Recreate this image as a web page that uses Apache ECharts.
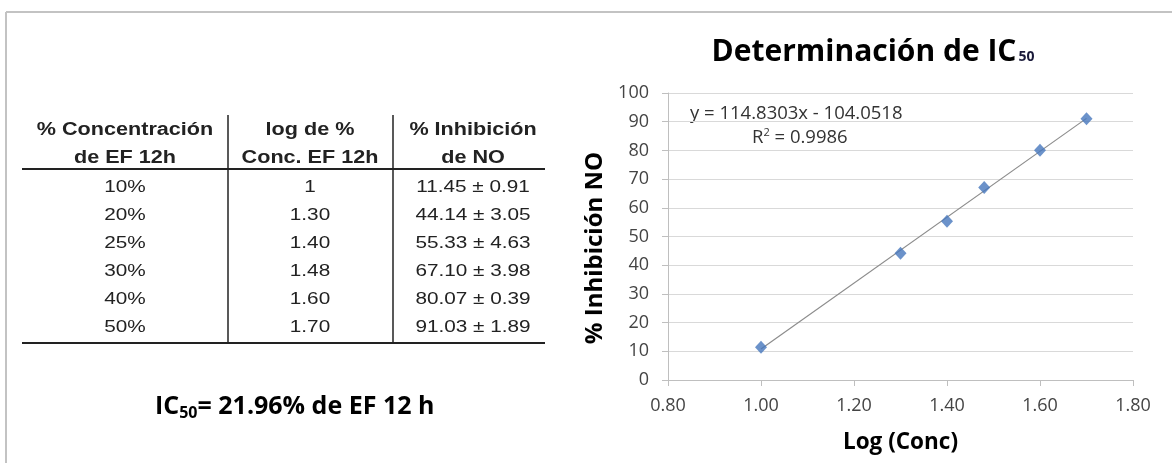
<!DOCTYPE html>
<html>
<head>
<meta charset="utf-8">
<script src="https://cdn.jsdelivr.net/npm/echarts@6/dist/echarts.min.js"></script>
<style>
html,body{margin:0;padding:0;background:#fff;}
#chart{width:1172px;height:463px;}
</style>
</head>
<body>
<div id="chart"></div>
<script>
// ---- data ----
var concLabels = ['10%', '20%', '25%', '30%', '40%', '50%'];
var logLabels = ['1', '1.30', '1.40', '1.48', '1.60', '1.70'];
var logConc = [1.00, 1.30, 1.40, 1.48, 1.60, 1.70];
var inhibition = [11.45, 44.14, 55.33, 67.10, 80.07, 91.03];
var inhibitionSD = [0.91, 3.05, 4.63, 3.98, 0.39, 1.89];
var slope = 114.8303;
var intercept = -104.0518;
var r2 = 0.9986;
var xTicks = [0.80, 1.00, 1.20, 1.40, 1.60, 1.80];
var yTicks = [0, 10, 20, 30, 40, 50, 60, 70, 80, 90, 100];
var headers = [['% Concentración', 'de EF 12h'], ['log de %', 'Conc. EF 12h'], ['% Inhibición', 'de NO']];

// ---- build ----
var chart = echarts.init(document.getElementById('chart'));
var points = logConc.map(function (x, i) { return [x, inhibition[i]]; });
var xFirst = logConc[0], xLast = logConc[logConc.length - 1];
var trend = [[xFirst, slope * xFirst + intercept], [xLast, slope * xLast + intercept]];

var FONT_T = '"Liberation Sans", Arial, sans-serif';
var FONT_C = '"Open Sans", sans-serif';
var colXc = [125, 310, 473];
var tblLeft = 22, tblRight = 545, vLines = [228, 393];
var g = [];
// border
g.push({type: 'line', shape: {x1: 6, y1: 12, x2: 1172, y2: 12}, style: {stroke: '#c3c3c3', lineWidth: 2}});
g.push({type: 'line', shape: {x1: 6, y1: 12, x2: 6, y2: 463}, style: {stroke: '#c3c3c3', lineWidth: 2}});
// table lines
g.push({type: 'line', shape: {x1: tblLeft, y1: 169, x2: tblRight, y2: 169}, style: {stroke: '#222', lineWidth: 2}});
g.push({type: 'line', shape: {x1: tblLeft, y1: 343, x2: tblRight, y2: 343}, style: {stroke: '#222', lineWidth: 2}});
vLines.forEach(function (x) {
  g.push({type: 'line', shape: {x1: x, y1: 115, x2: x, y2: 343}, style: {stroke: '#222', lineWidth: 1.5}});
});
// headers
headers.forEach(function (h, c) {
  h.forEach(function (line, k) {
    g.push({type: 'text', x: colXc[c], y: 130 + k * 28, scaleX: 1.2,
      style: {text: line, font: 'bold 18px ' + FONT_T, fill: '#222', align: 'center', verticalAlign: 'middle'}});
  });
});
// rows
concLabels.forEach(function (lab, i) {
  var y = 187 + i * 28;
  var cells = [lab, logLabels[i], inhibition[i].toFixed(2) + ' \u00b1 ' + inhibitionSD[i].toFixed(2)];
  cells.forEach(function (t, c) {
    g.push({type: 'text', x: colXc[c], y: y, scaleX: 1.22,
      style: {text: t, font: '17px ' + FONT_T, fill: '#222', align: 'center', verticalAlign: 'middle'}});
  });
});
// IC50 caption
g.push({type: 'text', x: 155, y: 407, style: {
  text: '{a|IC}{b|50}{a|= 21.96% de EF 12 h}', verticalAlign: 'middle',
  rich: {a: {font: 'bold 25px ' + FONT_C, fill: '#000'}, b: {font: 'bold 16px ' + FONT_C, fill: '#000', padding: [13, 0, 0, 0]}}
}});
// equation
g.push({type: 'text', x: 690, y: 114, style: {text: 'y = ' + slope.toFixed(4) + 'x - ' + Math.abs(intercept).toFixed(4), font: '18.5px ' + FONT_C, fill: '#333', verticalAlign: 'middle'}});
g.push({type: 'text', x: 752, y: 138, style: {text: '{a|R}{s|2}{a| = ' + r2.toFixed(4) + '}', verticalAlign: 'middle',
  rich: {a: {font: '18.5px ' + FONT_C, fill: '#333'}, s: {font: '11px ' + FONT_C, fill: '#333', padding: [0, 0, 10, 0]}}}});
// y axis title
g.push({type: 'text', x: 595, y: 248, rotation: Math.PI / 2, style: {text: '% Inhibición NO', font: 'bold 24px ' + FONT_C, fill: '#000', align: 'center', verticalAlign: 'middle'}});

var option = {
  backgroundColor: '#fff',
  animation: false,
  title: {
    text: '{a|Determinación de IC}{b|50}',
    left: 868, top: 32, textAlign: 'center',
    textStyle: {rich: {a: {fontFamily: FONT_C, fontWeight: 'bold', fontSize: 30, color: '#000'},
                       b: {fontFamily: FONT_C, fontWeight: 'bold', fontSize: 14, color: '#1a1a3a', padding: [11, 0, 0, 2]}}}
  },
  grid: {left: 668, right: 39, top: 93, bottom: 83},
  xAxis: {
    type: 'value', min: 0.8, max: 1.8, interval: 0.2,
    name: 'Log (Conc)', nameLocation: 'middle', nameGap: 51,
    nameTextStyle: {fontFamily: FONT_C, fontWeight: 'bold', fontSize: 22.5, color: '#000'},
    axisLine: {show: true, lineStyle: {color: '#bfbfbf'}},
    axisTick: {show: true, length: 6, lineStyle: {color: '#bfbfbf'}},
    axisLabel: {fontFamily: FONT_C, fontSize: 18, color: '#444', margin: 17, formatter: function (v) { return v.toFixed(2); }},
    splitLine: {show: false}
  },
  yAxis: {
    type: 'value', min: 0, max: 100, interval: 10,
    axisLine: {show: true, lineStyle: {color: '#bfbfbf'}},
    axisTick: {show: true, length: 6, lineStyle: {color: '#bfbfbf'}},
    axisLabel: {fontFamily: FONT_C, fontSize: 18, color: '#444', margin: 19},
    splitLine: {show: true, lineStyle: {color: '#d9d9d9', width: 1}}
  },
  series: [
    {type: 'line', data: trend, symbol: 'none', lineStyle: {color: '#8c8c8c', width: 1.2}, silent: true, z: 2},
    {type: 'scatter', data: points, symbol: 'diamond', symbolSize: [12, 13], itemStyle: {color: '#4677bd'}, z: 3}
  ],
  graphic: g
};
chart.setOption(option);
</script>
</body>
</html>
